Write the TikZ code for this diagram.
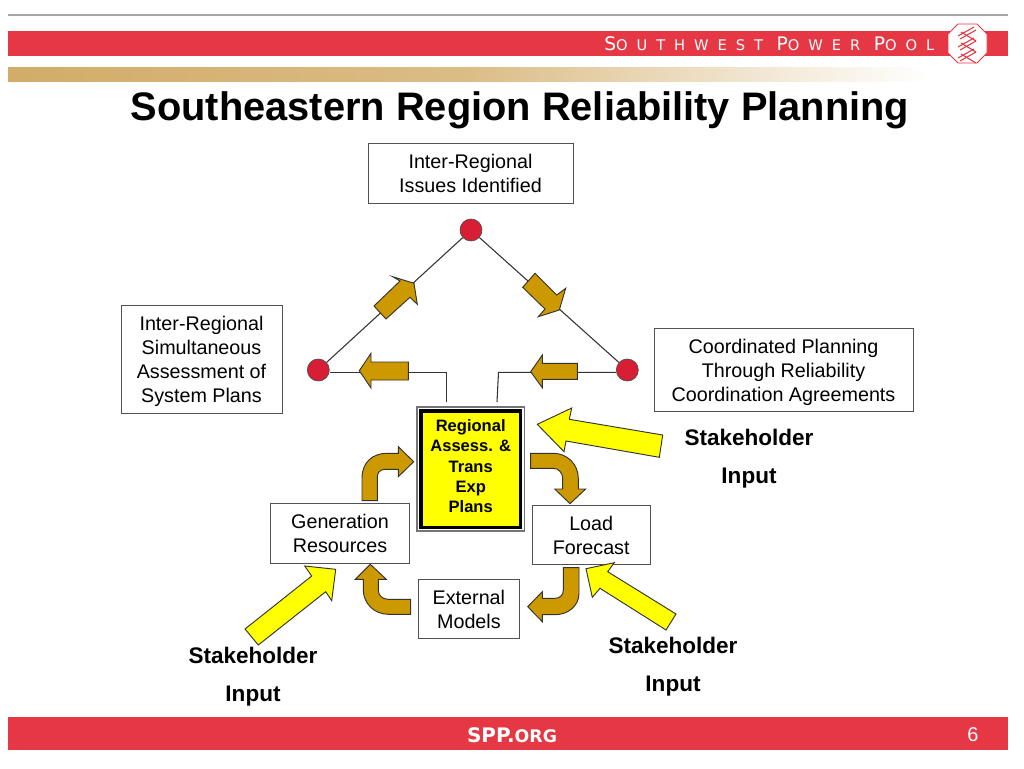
\documentclass[tikz,border=0pt]{standalone}
\usepackage{fontspec}
\setmainfont{Liberation Sans}
\newfontfamily\sppfont[LetterSpace=61]{DejaVu Sans}
\newfontfamily\sitefont{DejaVu Sans}
\usepackage{tikz}
\definecolor{SppRed}{HTML}{E63844}
\definecolor{SppTan}{HTML}{D2AC68}
\definecolor{ArrowGold}{HTML}{CC9900}
\definecolor{ArrowYellow}{HTML}{FFFF00}
\definecolor{DotRed}{HTML}{D81E34}
\definecolor{BoxGray}{HTML}{505058}
\tikzset{
  textbox/.style={draw=BoxGray,fill=white,line width=.75pt,align=center,inner sep=0pt,
    font=\fontsize{14.8}{18}\selectfont},
  dotnode/.style={circle,draw=black!70,fill=DotRed,line width=.5pt,minimum size=16.5pt,inner sep=0pt},
  wire/.style={draw=black!80,line width=.8pt},
  goldarrow/.style={draw=black!80,fill=ArrowGold,line width=.7pt,line join=miter},
  yellowarrow/.style={draw=black!80,fill=ArrowYellow,line width=.7pt,line join=miter},
  inputlabel/.style={align=center,inner sep=0pt,font=\fontsize{16.9}{28.5}\selectfont\bfseries},
}
\begin{document}
\begin{tikzpicture}[x=.75pt,y=-.75pt]
    \useasboundingbox (0,0) rectangle (1024,768);

    % header and footer
    \draw[color=black!35,line width=1.5pt] (8,14.5) -- (1008,14.5);
    \fill[SppRed] (8,31) rectangle (1008,56);
    \shade[left color=SppTan,right color=white,middle color=SppTan!80!white] (8,67.5) rectangle (928,81);
    \fill[SppRed] (8,717) rectangle (1008,750);
    \node[text=white,inner sep=0pt,anchor=base west] (brand) at (604,50)
      {\sppfont\fontsize{14}{16}\selectfont S\fontsize{11}{16}\selectfont OUTHWEST
       \fontsize{14}{16}\selectfont P\fontsize{11}{16}\selectfont OWER
       \fontsize{14}{16}\selectfont P\fontsize{11}{16}\selectfont OOL};
    \draw[fill=white,draw=SppRed,line width=.6pt] (958,24) -- (977,24) -- (987,34) -- (987,53) -- (977,63) -- (958,63) -- (948,53) -- (948,34) -- cycle;
    \foreach \o in {0,11,22} {
      \draw[SppRed,line width=.8pt] (958,36+\o) -- (974,27+\o);
      \draw[SppRed,line width=.8pt] (960,39+\o) -- (976,30+\o);
      \draw[SppRed,line width=.8pt] (961,32+\o) -- (976,41+\o);
    }
    \node[text=white,inner sep=0pt] (site) at (512,735)
      {\sitefont\bfseries\fontsize{15}{16}\selectfont SPP.\fontsize{13}{16}\selectfont ORG};
    \node[text=white,inner sep=0pt] (page) at (973,735) {\fontsize{15}{16}\selectfont 6};

    \node[inner sep=0pt] (title) at (520,110) {\fontsize{29.85}{36}\selectfont\bfseries Southeastern Region Reliability Planning};

    % triangle
    \node[dotnode] (dottop) at (471,230) {};
    \node[dotnode] (dotleft) at (318.3,370) {};
    \node[dotnode] (dotright) at (627.3,370) {};
    \coordinate (cornerleft) at (446.7,372.3);
    \coordinate (footleft) at (446.7,402);
    \coordinate (cornerright) at (498.5,372.3);
    \coordinate (footright) at (497,402);
    \draw[wire] (dottop) -- (dotleft);
    \draw[wire] (dottop) -- (dotright);
    \draw[wire] (dotleft.east |- cornerleft) -- (cornerleft) -- (footleft);
    \draw[wire] (dotright.west |- cornerright) -- (cornerright) -- (footright);

    \draw[goldarrow] (374,306) -- (400,281) -- (392.7,276.7) -- (414,283.3) -- (417.3,304.3) -- (410,297.3) -- (386,319) -- cycle;
    \draw[goldarrow] (535,273.3) -- (556.7,295) -- (565.7,288.3) -- (559.3,310) -- (538.3,316.7) -- (545,309) -- (522.7,287.3) -- cycle;
    \draw[goldarrow] (359.3,370.7) -- (371,353.3) -- (371,362) -- (408.3,362) -- (408.3,380) -- (371,380) -- (371,388) -- cycle;
    \draw[goldarrow] (530.7,371.7) -- (542.3,355) -- (542.3,363.3) -- (577.3,363.3) -- (577.3,379.3) -- (542.3,379.3) -- (542.3,387.7) -- cycle;

    % text boxes
    \node[textbox,minimum width=153.75pt,minimum height=45pt] (issues) at (470.5,173) {Inter-Regional\\Issues Identified};
    \node[textbox,minimum width=120.75pt,minimum height=81pt] (assess) at (201.5,359) {\rule{0pt}{14pt}Inter-Regional\\Simultaneous\\Assessment of\\System Plans};
    \node[textbox,minimum width=194.25pt,minimum height=62.25pt] (coord) at (783.5,369.5) {\rule{0pt}{15pt}Coordinated Planning\\Through Reliability\\Coordination Agreements};
    \node[textbox,minimum width=104.5pt,minimum height=44.7pt] (gener) at (340,533.5) {Generation\\Resources};
    \node[textbox,minimum width=88.2pt,minimum height=44.2pt] (load) at (591.2,535.3) {Load\\Forecast};
    \node[textbox,minimum width=76.2pt,minimum height=44.2pt] (extern) at (468.9,609.2) {External\\Models};

    % centre box
    \node[draw=BoxGray!80,fill=white,line width=1.2pt,minimum width=80.7pt,minimum height=93.4pt,inner sep=0pt] (plansout) at (470.5,469) {};
    \node[draw=black,fill=ArrowYellow,line width=2.6pt,minimum width=74.7pt,minimum height=87.4pt,inner sep=0pt,align=center,
      font=\fontsize{12.4}{15.2}\selectfont\bfseries] (plans) at (470.7,469.2) {Regional\\Assess. \&\\Trans\\Exp\\Plans\rule[-4.5pt]{0pt}{4.5pt}};

    % curved arrows
    \draw[goldarrow] (362,500.7) -- (362,478) .. controls (362,462) and (373,453.3) .. (387,453.3) -- (398.3,453.3) -- (398.3,446.7) -- (413.7,461.7) -- (398.3,476.7) -- (398.3,469.3) -- (385,469.3) .. controls (380,469.3) and (377.3,473) .. (377.3,477) -- (377.3,500.7) -- cycle;
    \draw[goldarrow] (530.7,453.3) -- (553.3,453.3) .. controls (567,453.3) and (578.3,464) .. (578.3,478.3) -- (578.3,489) -- (585.7,489) -- (570,503.7) -- (554.7,489) -- (562.7,489) -- (562.7,478.3) .. controls (562.7,473) and (558.5,468.3) .. (553.3,468.3) -- (530.7,468.3) -- cycle;
    \draw[goldarrow] (579,567.7) -- (579,593.3) .. controls (579,606) and (568,614.7) .. (555,614.7) -- (542.3,614.7) -- (542.3,621.7) -- (527.7,606.7) -- (542.3,591.7) -- (542.3,598.3) -- (555,598.3) .. controls (560,598.3) and (563.3,595) .. (563.3,590) -- (563.3,567.7) -- cycle;
    \draw[goldarrow] (410.7,614.3) -- (388.3,614.3) .. controls (374,614.3) and (363.3,603) .. (363.3,590) -- (363.3,579.3) -- (355.3,579.3) -- (370.3,564.3) -- (386.3,579.3) -- (378.3,579.3) -- (378.3,590) .. controls (378.3,595) and (382,599.3) .. (388.3,599.3) -- (410.7,599.3) -- cycle;

    % stakeholder arrows
    \draw[yellowarrow] (537.3,424.3) -- (571.7,408) -- (569.3,419.3) -- (662.7,435) -- (659.3,457.3) -- (566,441) -- (564,451.7) -- cycle;
    \draw[yellowarrow] (335.7,569.3) -- (331.7,600.7) -- (325.7,591.7) -- (258.3,645) -- (245,629) -- (311.7,576) -- (304.7,566) -- cycle;
    \draw[yellowarrow] (586,568.7) -- (614.3,562.7) -- (607.7,571.7) -- (676,614) -- (666,630) -- (600,588.3) -- (592.3,597.3) -- cycle;

    \node[inputlabel] (inputright) at (749,459) {Stakeholder\\Input};
    \node[inputlabel] (inputleft) at (253,677) {Stakeholder\\Input};
    \node[inputlabel] (inputload) at (673,667) {Stakeholder\\Input};
\end{tikzpicture}
\end{document}
